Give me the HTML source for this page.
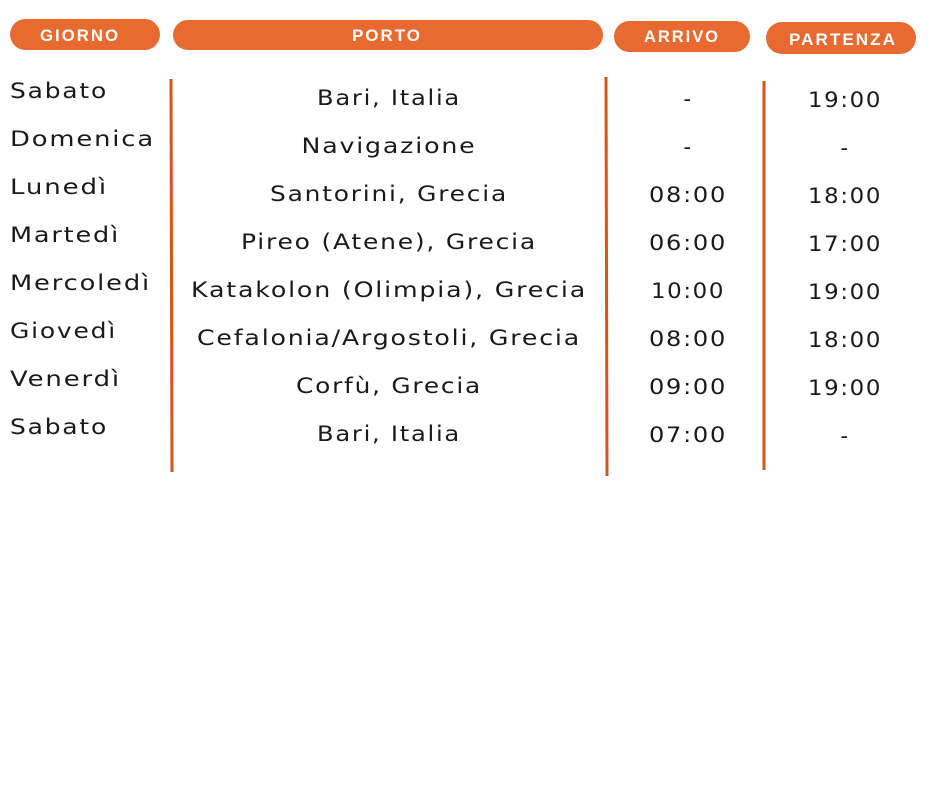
<!DOCTYPE html>
<html><head><meta charset="utf-8"><style>
html,body{margin:0;padding:0;background:#fff;}
svg{display:block;}
.t{font-family:"DejaVu Sans","Liberation Sans",sans-serif;font-size:21px;fill:#1a1a1a;letter-spacing:1.5px;}
.h{font-family:"Liberation Sans",sans-serif;font-size:17px;font-weight:bold;fill:#fff;letter-spacing:2px;}
</style></head><body>
<svg width="940" height="788" viewBox="0 0 940 788" xmlns="http://www.w3.org/2000/svg">
<rect x="10" y="19" width="150" height="31" rx="15.5" fill="#E96A30"/>
<rect x="173" y="20" width="430" height="30" rx="15" fill="#E96A30"/>
<rect x="614" y="21" width="136" height="31" rx="15.5" fill="#E96A30"/>
<rect x="766" y="22" width="150" height="32" rx="16" fill="#E96A30"/>
<text class="h" x="80" y="41" text-anchor="middle" textLength="80" lengthAdjust="spacingAndGlyphs">GIORNO</text>
<text class="h" x="387" y="41" text-anchor="middle" textLength="70" lengthAdjust="spacingAndGlyphs">PORTO</text>
<text class="h" x="682" y="42" text-anchor="middle" textLength="76" lengthAdjust="spacingAndGlyphs">ARRIVO</text>
<text class="h" x="843" y="45" text-anchor="middle" textLength="108" lengthAdjust="spacingAndGlyphs">PARTENZA</text>
<line x1="171" y1="79" x2="172" y2="472" stroke="#D9541A" stroke-width="3"/>
<line x1="606" y1="77" x2="607" y2="476" stroke="#D9541A" stroke-width="3"/>
<line x1="764" y1="81" x2="764" y2="470" stroke="#D9541A" stroke-width="3"/>
<g class="t">
<text x="10" y="98" textLength="98" lengthAdjust="spacingAndGlyphs">Sabato</text>
<text x="10" y="146" textLength="145" lengthAdjust="spacingAndGlyphs">Domenica</text>
<text x="10" y="194" textLength="98" lengthAdjust="spacingAndGlyphs">Lunedì</text>
<text x="10" y="242" textLength="110" lengthAdjust="spacingAndGlyphs">Martedì</text>
<text x="10" y="290" textLength="141" lengthAdjust="spacingAndGlyphs">Mercoledì</text>
<text x="10" y="338" textLength="107" lengthAdjust="spacingAndGlyphs">Giovedì</text>
<text x="10" y="386" textLength="111" lengthAdjust="spacingAndGlyphs">Venerdì</text>
<text x="10" y="434" textLength="98" lengthAdjust="spacingAndGlyphs">Sabato</text>
</g>
<g class="t" text-anchor="middle">
<text x="389" y="105" textLength="144" lengthAdjust="spacingAndGlyphs">Bari, Italia</text>
<text x="389" y="153" textLength="175" lengthAdjust="spacingAndGlyphs">Navigazione</text>
<text x="389" y="201" textLength="238" lengthAdjust="spacingAndGlyphs">Santorini, Grecia</text>
<text x="389" y="249" textLength="296" lengthAdjust="spacingAndGlyphs">Pireo (Atene), Grecia</text>
<text x="389" y="297" textLength="396" lengthAdjust="spacingAndGlyphs">Katakolon (Olimpia), Grecia</text>
<text x="389" y="345" textLength="384" lengthAdjust="spacingAndGlyphs">Cefalonia/Argostoli, Grecia</text>
<text x="389" y="393" textLength="186" lengthAdjust="spacingAndGlyphs">Corfù, Grecia</text>
<text x="389" y="441" textLength="144" lengthAdjust="spacingAndGlyphs">Bari, Italia</text>

<text x="688" y="106">-</text>
<text x="688" y="154">-</text>
<text x="688" y="202" textLength="78" lengthAdjust="spacingAndGlyphs">08:00</text>
<text x="688" y="250" textLength="78" lengthAdjust="spacingAndGlyphs">06:00</text>
<text x="688" y="298" textLength="74" lengthAdjust="spacingAndGlyphs">10:00</text>
<text x="688" y="346" textLength="78" lengthAdjust="spacingAndGlyphs">08:00</text>
<text x="688" y="394" textLength="78" lengthAdjust="spacingAndGlyphs">09:00</text>
<text x="688" y="442" textLength="78" lengthAdjust="spacingAndGlyphs">07:00</text>

<text x="845" y="107" textLength="74" lengthAdjust="spacingAndGlyphs">19:00</text>
<text x="845" y="155">-</text>
<text x="845" y="203" textLength="74" lengthAdjust="spacingAndGlyphs">18:00</text>
<text x="845" y="251" textLength="74" lengthAdjust="spacingAndGlyphs">17:00</text>
<text x="845" y="299" textLength="74" lengthAdjust="spacingAndGlyphs">19:00</text>
<text x="845" y="347" textLength="74" lengthAdjust="spacingAndGlyphs">18:00</text>
<text x="845" y="395" textLength="74" lengthAdjust="spacingAndGlyphs">19:00</text>
<text x="845" y="443">-</text>
</g>
</svg>
</body></html>
